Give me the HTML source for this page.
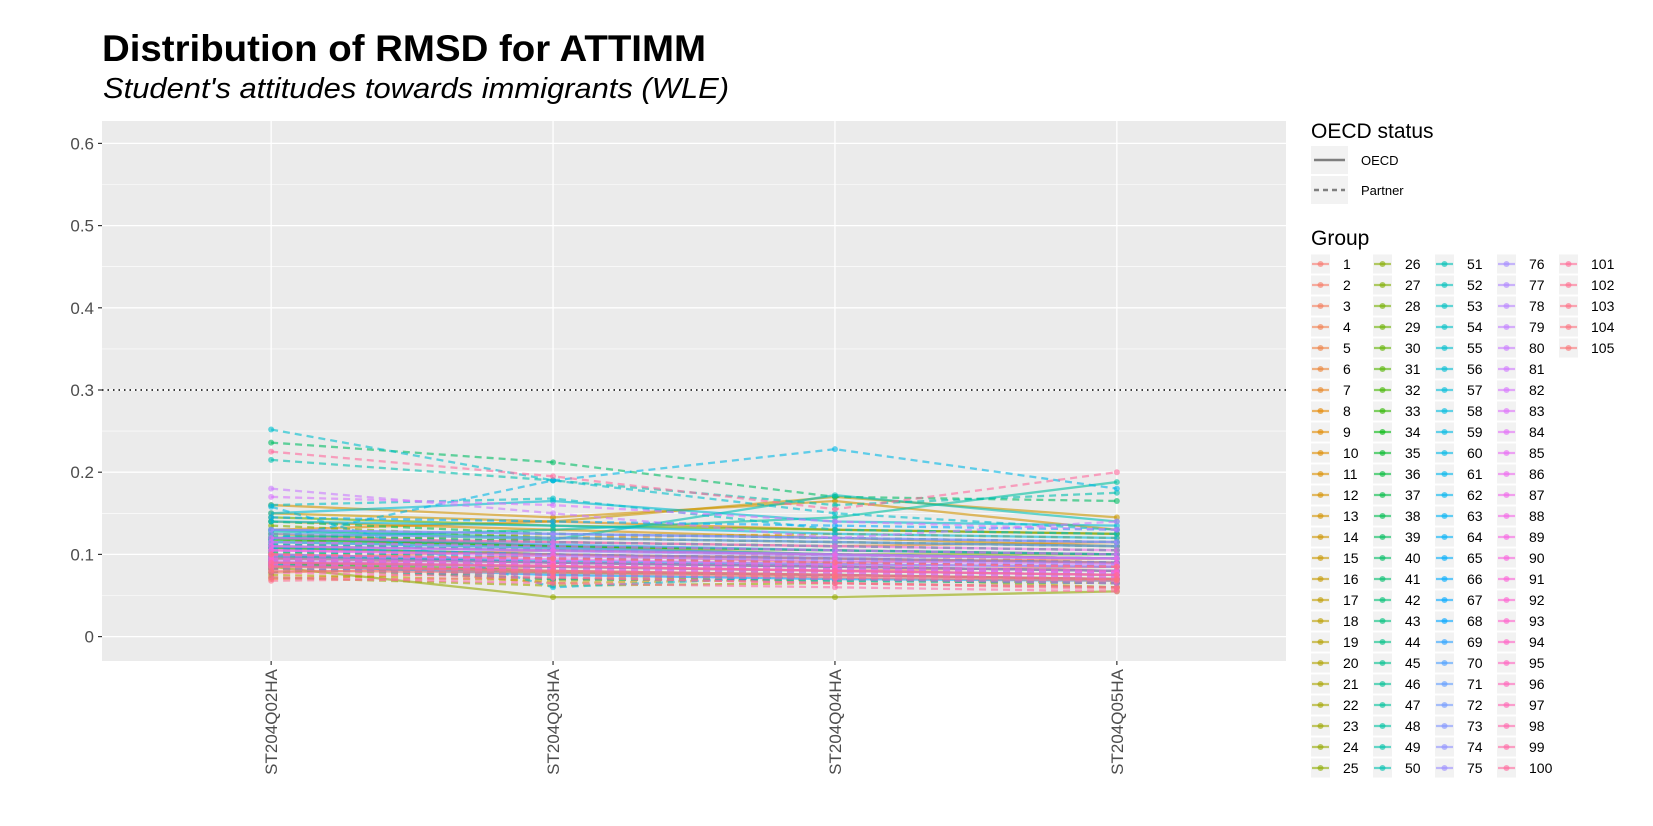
<!DOCTYPE html>
<html><head><meta charset="utf-8"><style>
html,body{margin:0;padding:0;background:#fff;}
svg{display:block;font-family:"Liberation Sans",Arial,sans-serif;}
</style></head><body>
<svg id="chart" width="1653" height="826" viewBox="0 0 1653 826">
<text x="102" y="61" font-size="37" font-weight="bold" fill="#000" textLength="604" lengthAdjust="spacingAndGlyphs">Distribution of RMSD for ATTIMM</text>
<text x="103" y="98" font-size="29" font-style="italic" fill="#000" textLength="626" lengthAdjust="spacingAndGlyphs">Student's attitudes towards immigrants (WLE)</text>
<g id="plot"></g>
<g id="legend"></g>
</svg>
<script>
const categories=["ST204Q02HA","ST204Q03HA","ST204Q04HA","ST204Q05HA"];
const yTicks=[0,0.1,0.2,0.3,0.4,0.5,0.6];
const yTickLabels=["0","0.1","0.2","0.3","0.4","0.5","0.6"];
const threshold=0.3;
const q02=[.085,.09,.078,.11,.095,.07,.12,.10,.13,.088,.105,.14,.16,.092,.15,.082,.125,.075,.098,.115,.087,.108,.072,.085,.094,.12,.135,.1,.083,.145,.112,.09,.078,.118,.102,.125,.088,.14,.095,.236,.108,.082,.13,.097,.115,.122,.09,.12,.104,.215,.128,.093,.11,.16,.252,.15,.085,.14,.158,.118,.1,.092,.13,.112,.098,.145,.087,.108,.12,.095,.105,.115,.09,.125,.1,.11,.088,.13,.095,.18,.105,.17,.092,.115,.1,.085,.12,.098,.11,.093,.088,.105,.082,.095,.1,.09,.078,.086,.072,.225,.09,.068,.085,.1,.08];
const q03=[.1,.095,.085,.12,.105,.08,.115,.095,.14,.07,.12,.13,.145,.065,.14,.095,.11,.068,.09,.125,.075,.1,.062,.048,.085,.11,.12,.09,.07,.135,.105,.08,.095,.11,.1,.115,.078,.125,.09,.212,.1,.075,.12,.09,.108,.115,.085,.13,.095,.19,.118,.085,.105,.168,.19,.165,.07,.135,.06,.19,.092,.085,.125,.105,.09,.14,.075,.1,.112,.088,.098,.108,.082,.12,.092,.104,.08,.125,.088,.15,.098,.16,.086,.11,.094,.078,.115,.092,.105,.088,.082,.1,.075,.09,.095,.085,.072,.08,.065,.195,.086,.072,.08,.095,.078];
const q04=[.09,.1,.08,.115,.1,.075,.11,.09,.13,.075,.125,.12,.165,.07,.17,.09,.105,.072,.085,.12,.08,.095,.065,.048,.09,.1,.115,.085,.068,.13,.1,.075,.09,.105,.095,.11,.075,.12,.085,.17,.095,.07,.115,.085,.1,.11,.08,.145,.09,.16,.172,.08,.1,.13,.15,.14,.068,.125,.075,.228,.088,.08,.12,.1,.085,.135,.07,.095,.105,.082,.092,.1,.078,.115,.088,.098,.075,.12,.082,.12,.092,.14,.08,.105,.088,.072,.11,.086,.1,.082,.078,.095,.07,.085,.09,.08,.065,.075,.06,.155,.08,.065,.075,.09,.072];
const q05=[.095,.09,.085,.11,.095,.07,.115,.085,.125,.07,.12,.11,.13,.065,.145,.085,.1,.06,.08,.115,.075,.09,.06,.055,.085,.1,.11,.08,.065,.125,.095,.07,.085,.1,.09,.105,.07,.115,.08,.165,.09,.065,.11,.08,.095,.105,.075,.188,.085,.175,.14,.075,.095,.125,.13,.135,.065,.12,.07,.18,.085,.075,.115,.095,.08,.13,.068,.09,.1,.078,.088,.095,.072,.11,.085,.095,.07,.115,.078,.14,.088,.13,.075,.1,.085,.068,.105,.08,.095,.078,.072,.09,.065,.08,.085,.075,.06,.07,.055,.2,.075,.058,.07,.085,.068];
const partner=[0,1,0,1,0,1,0,1,0,1,1,0,0,1,0,1,0,1,0,1,1,0,1,0,1,0,1,0,1,0,1,0,1,0,1,1,0,1,0,1,0,1,0,1,0,1,0,0,1,1,0,1,0,1,1,0,1,0,1,1,0,1,0,1,0,1,0,1,0,1,1,0,1,0,1,0,1,0,1,1,0,1,0,1,0,1,0,1,0,1,1,0,1,0,1,0,1,0,1,1,0,1,0,1,0];

const NS="http://www.w3.org/2000/svg";
const P={l:102,r:1286,t:121,b:661};
function xS(i){return P.l+(i+0.6)*(P.r-P.l)/4.2;}
function yS(v){return 636.6-v*822;}
function mk(tag,attrs,parent){const e=document.createElementNS(NS,tag);for(const k in attrs)e.setAttribute(k,attrs[k]);parent.appendChild(e);return e;}
function hcl(h,c,l){
  const hr=h*Math.PI/180,u=c*Math.cos(hr),v=c*Math.sin(hr);
  const Xn=95.047,Yn=100,Zn=108.883,den=Xn+15*Yn+3*Zn,un=4*Xn/den,vn=9*Yn/den;
  const Y=Yn*Math.pow((l+16)/116,3),up=u/(13*l)+un,vp=v/(13*l)+vn;
  const X=Y*9*up/(4*vp),Z=Y*(12-3*up-20*vp)/(4*vp);
  const x=X/100,y=Y/100,z=Z/100;
  let rgb=[3.2404542*x-1.5371385*y-0.4985314*z,-0.9692660*x+1.8760108*y+0.0415560*z,0.0556434*x-0.2040259*y+1.0572252*z];
  rgb=rgb.map(t=>{t=t<=0.0031308?12.92*t:1.055*Math.pow(t,1/2.4)-0.055;return Math.max(0,Math.min(255,Math.round(t*255)));});
  return "rgb("+rgb.join(",")+")";
}
const N=q02.length;
const colors=[];for(let i=0;i<N;i++)colors.push(hcl(15+360*i/N,100,65));

const plot=document.getElementById('plot');
const panel=mk('rect',{x:P.l,y:P.t,width:P.r-P.l,height:P.b-P.t,fill:'#ebebeb'},plot);


for(let k=0;k<yTicks.length-1;k++){const m=(yTicks[k]+yTicks[k+1])/2;
  const g=mk('line',{x1:P.l,x2:P.r,y1:yS(m),y2:yS(m),stroke:'#fff','stroke-width':0.6},plot);
  
  }
yTicks.forEach((t,k)=>{
  const g=mk('line',{x1:P.l,x2:P.r,y1:yS(t),y2:yS(t),stroke:'#fff','stroke-width':1.3},plot);
  
  
  const tk=mk('line',{x1:P.l-4,x2:P.l,y1:yS(t),y2:yS(t),stroke:'#333','stroke-width':1.2},plot);
  
  
  const tx=mk('text',{x:P.l-8,y:yS(t)+6,'text-anchor':'end','font-size':17,fill:'#4d4d4d'},plot);
  tx.textContent=yTickLabels[k];
  
  
});
categories.forEach((c,i)=>{
  const g=mk('line',{x1:xS(i),x2:xS(i),y1:P.t,y2:P.b,stroke:'#fff','stroke-width':1.3},plot);
  
  
  const tk=mk('line',{x1:xS(i),x2:xS(i),y1:P.b,y2:P.b+4,stroke:'#333','stroke-width':1.2},plot);
  
  
  const tx=mk('text',{x:0,y:0,'text-anchor':'end','font-size':17,fill:'#4d4d4d',transform:`translate(${xS(i)+6},${P.b+8}) rotate(-90)`},plot);
  tx.textContent=c;
  
  
});
const th=mk('line',{x1:P.l,x2:P.r,y1:yS(threshold),y2:yS(threshold),stroke:'#000','stroke-width':1.5,'stroke-dasharray':'1.5,4'},plot);


for(let g=0;g<N;g++){
  const vals=[q02[g],q03[g],q04[g],q05[g]];
  const pts=vals.map((v,i)=>xS(i)+","+yS(v)).join(" ");
  const ln=mk('polyline',{points:pts,fill:'none',stroke:colors[g],'stroke-width':2.3,'stroke-opacity':0.6},plot);
  if(partner[g])ln.setAttribute('stroke-dasharray','7,5');
  
  
  vals.forEach((v,i)=>{
    const p=mk('circle',{cx:xS(i),cy:yS(v),r:3,fill:colors[g],'fill-opacity':0.6},plot);
    
    
  });
}
const lg=document.getElementById('legend');
const t1=mk('text',{x:1311,y:138,'font-size':21,fill:'#000'},lg);t1.textContent='OECD status';


[['OECD',0,160],['Partner',1,190]].forEach(([lab,d,cy])=>{
  const b=mk('rect',{x:1311,y:cy-14,width:37,height:28,fill:'#f2f2f2'},lg);
  
  
  const l=mk('line',{x1:1314,x2:1345,y1:cy,y2:cy,stroke:'#7f7f7f','stroke-width':2.5},lg);
  if(d)l.setAttribute('stroke-dasharray','5,4');
  
  
  const t=mk('text',{x:1361,y:cy+5,'font-size':13,fill:'#000'},lg);t.textContent=lab;
  
  
});
const t2=mk('text',{x:1311,y:245,'font-size':21,fill:'#000'},lg);t2.textContent='Group';


for(let g=0;g<N;g++){
  const col=Math.floor(g/25),row=g%25;
  const kx=1311+col*62,cy=264+row*21;
  const b=mk('rect',{x:kx,y:cy-9.5,width:19,height:19,fill:'#f2f2f2'},lg);
  
  
  const l=mk('line',{x1:kx+1,x2:kx+18,y1:cy,y2:cy,stroke:colors[g],'stroke-width':2.3,'stroke-opacity':0.6},lg);
  
  
  const c=mk('circle',{cx:kx+9.5,cy:cy,r:3,fill:colors[g],'fill-opacity':0.6},lg);
  
  
  const t=mk('text',{x:kx+32,y:cy+5,'font-size':14,fill:'#000'},lg);t.textContent=String(g+1);
  
  
}
</script>
</body></html>
